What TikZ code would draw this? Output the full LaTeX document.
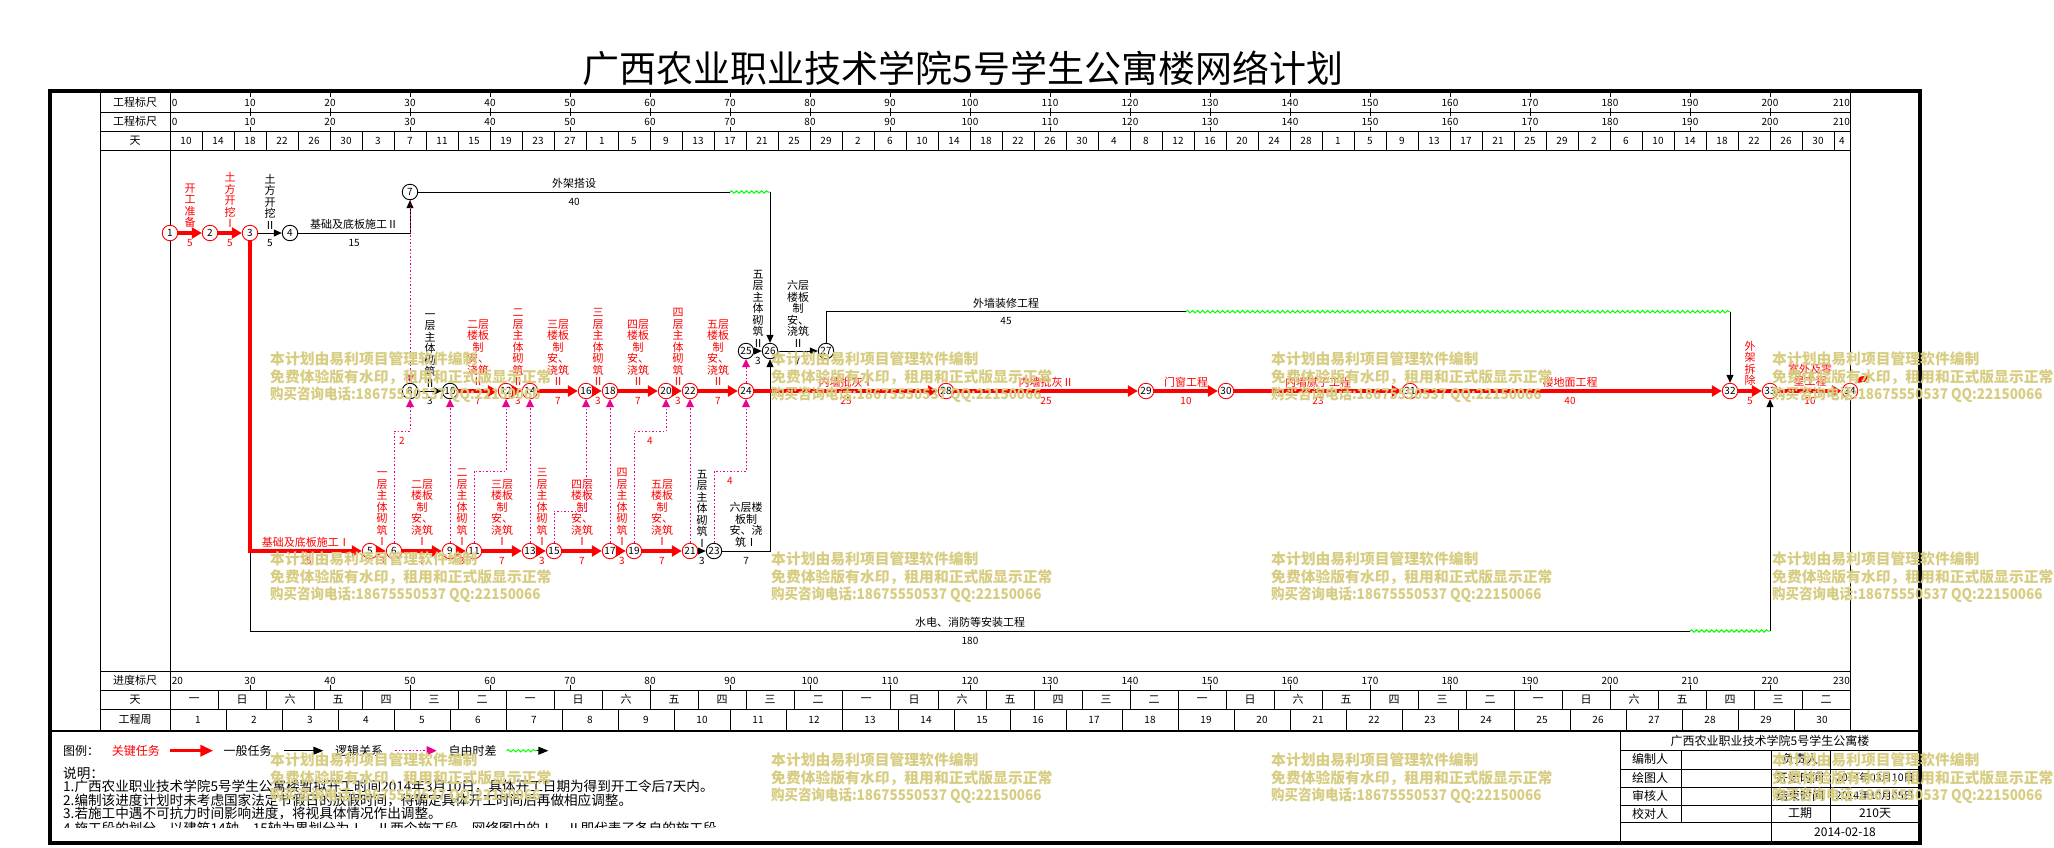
\documentclass[tikz,border=0pt]{standalone}
\usepackage{fontspec}
\setmainfont{Noto Sans CJK SC}
\usetikzlibrary{arrows.meta,decorations.pathmorphing}
\definecolor{wmtan}{RGB}{215,205,130}
\begin{document}
\begin{tikzpicture}[x=1pt,y=-1pt,
    ev/.style={circle,draw,fill=white,line width=0.9pt,minimum size=15.5pt,inner sep=0pt,font=\fontsize{10}{10}\selectfont},
    evc/.style={ev,draw=red},
    crit/.style={draw=red,line width=3.3pt,-{Triangle[length=10pt,width=11pt]}},
    norm/.style={draw=black,line width=1pt,-{Triangle[length=8pt,width=7pt]}},
    virt/.style={draw=magenta,line width=1pt,dash pattern=on 1.5pt off 2pt,-{Triangle[length=8pt,width=8pt]}},
    wav/.style={draw=green,line width=1pt,decorate,decoration={snake,amplitude=1.2pt,segment length=5pt}},
    tl/.style={anchor=base,yshift=4.5pt,inner sep=0pt,font=\fontsize{11}{11}\selectfont},
    dl/.style={anchor=base,yshift=-13pt,inner sep=0pt,font=\fontsize{10}{10}\selectfont},
    vl/.style={anchor=south,yshift=3.5pt,inner sep=0pt,align=center,font=\fontsize{11}{11.5}\selectfont},
    hd/.style={inner sep=0pt,font=\fontsize{11}{11}\selectfont},
    sc/.style={inner sep=0pt,font=\fontsize{10}{10}\selectfont},
    lg/.style={anchor=west,inner sep=0pt,font=\fontsize{12}{12}\selectfont},
    nt/.style={anchor=west,inner sep=0pt,font=\fontsize{13.6}{13.6}\selectfont},
    tb/.style={inner sep=0pt,font=\fontsize{12}{12}\selectfont},
    wm/.style={anchor=west,inner sep=0pt,text=wmtan,font=\fontsize{14.8}{14.8}\selectfont\bfseries}]

  \useasboundingbox (0,0) rectangle (2054,847);

  \node[font=\fontsize{37}{37}\selectfont] (title) at (963,68) {广西农业职业技术学院5号学生公寓楼网络计划};

  \draw[line width=4pt] (50.3,91.3) rectangle (1920,842.8);
  \draw (100,93) -- (100,730) (170,93) -- (170,730) (1850,93) -- (1850,730);
  \draw (100,112) -- (1850,112) (100,131) -- (1850,131) (100,150) -- (1850,150);
  \draw (100,671) -- (1850,671) (100,690) -- (1850,690) (100,709.3) -- (1850,709.3);
  \draw[line width=2pt] (50,731) -- (1920,731);

  \node[hd] (r1) at (135,102.5) {工程标尺};
  \node[hd] (r2) at (135,121.5) {工程标尺};
  \node[hd] (r3) at (135,140.5) {天};
  \node[hd] (r4) at (135,680.5) {进度标尺};
  \node[hd] (r5) at (135,699.7) {天};
  \node[hd] (r6) at (135,719.7) {工程周};

  \begin{scope}[xshift=170pt,x=8pt]
    \foreach \v in {10,20,...,200} {
      \node[sc] at (\v,102.5) {\v};
      \node[sc] at (\v,121.5) {\v};
      \draw (\v,93) -- (\v,97) (\v,108) -- (\v,116) (\v,127) -- (\v,131);
    }
    \node[sc,anchor=west] at (0.2,102.5) {0};
    \node[sc,anchor=west] at (0.2,121.5) {0};
    \node[sc,anchor=east] at (210,102.5) {210};
    \node[sc,anchor=east] at (210,121.5) {210};
    \foreach \d [count=\i from 0] in {10,14,18,22,26,30,3,7,11,15,19,23,27,1,5,9,13,17,21,25,29,2,6,10,14,18,22,26,30,4,8,12,16,20,24,28,1,5,9,13,17,21,25,29,2,6,10,14,18,22,26,30}
      \node[sc] at (4*\i+2,140.5) {\d};
    \node[sc] at (209,140.5) {4};
    \foreach \i in {1,...,52} \draw (4*\i,131) -- (4*\i,150);

    \foreach \v [evaluate=\v as \lab using int(\v+20)] in {10,20,...,200} {
      \node[sc] at (\v,680.5) {\lab};
      \draw (\v,685) -- (\v,690);
    }
    \node[sc,anchor=west] at (0.2,680.5) {20};
    \node[sc,anchor=east] at (210,680.5) {230};
    \foreach \k in {0,...,4} {
      \foreach \w [count=\j from 0] in {一,日,六,五,四,三,二}
        \node[hd] at (42*\k+6*\j+3,699.7) {\w};
    }
    \foreach \i in {1,...,34} \draw (6*\i,690) -- (6*\i,709.3);
    \foreach \i in {1,...,30} \node[sc] at (7*\i-3.5,719.7) {\i};
    \foreach \i in {1,...,29} \draw (7*\i,709.3) -- (7*\i,730);

    \node[evc] (n1)  at (0,233)   {1};
    \node[evc] (n2)  at (5,233)   {2};
    \node[evc] (n3)  at (10,233)  {3};
    \node[ev]  (n4)  at (15,233)  {4};
    \node[ev]  (n7)  at (30,192)  {7};
    \node[ev]  (n8)  at (30,391)  {8};
    \node[ev]  (n10) at (35,391)  {10};
    \node[evc] (n12) at (42,391)  {12};
    \node[evc] (n14) at (45,391)  {14};
    \node[evc] (n16) at (52,391)  {16};
    \node[evc] (n18) at (55,391)  {18};
    \node[evc] (n20) at (62,391)  {20};
    \node[evc] (n22) at (65,391)  {22};
    \node[evc] (n24) at (72,391)  {24};
    \node[ev]  (n25) at (72,351)  {25};
    \node[ev]  (n26) at (75,351)  {26};
    \node[ev]  (n27) at (82,351)  {27};
    \node[evc] (n28) at (97,391)  {28};
    \node[evc] (n29) at (122,391) {29};
    \node[evc] (n30) at (132,391) {30};
    \node[evc] (n31) at (155,391) {31};
    \node[evc] (n32) at (195,391) {32};
    \node[evc] (n33) at (200,391) {33};
    \node[evc] (n34) at (210,391) {34};
    \node[evc] (n5)  at (25,551)  {5};
    \node[evc] (n6)  at (28,551)  {6};
    \node[evc] (n9)  at (35,551)  {9};
    \node[evc] (n11) at (38,551)  {11};
    \node[evc] (n13) at (45,551)  {13};
    \node[evc] (n15) at (48,551)  {15};
    \node[evc] (n17) at (55,551)  {17};
    \node[evc] (n19) at (58,551)  {19};
    \node[evc] (n21) at (65,551)  {21};
    \node[ev]  (n23) at (68,551)  {23};

    \coordinate (w7)  at (70,192);
    \coordinate (w3)  at (190,631);
    \coordinate (w27) at (127,311.7);
    \coordinate (k6)  at (30,431);
    \coordinate (k11) at (42,471);
    \coordinate (k15) at (52,511);
    \coordinate (k19) at (62,431.7);
    \coordinate (k23) at (72,471.7);

    \path (n1) edge[crit] node[vl,red] {开\\工\\准\\备} node[dl,red] {5} (n2);
    \path (n2) edge[crit] node[vl,red] {土\\方\\开\\挖\\Ⅰ} node[dl,red] {5} (n3);
    \path (n3) edge[norm] node[vl] {土\\方\\开\\挖\\Ⅱ} node[dl] {5} (n4);
    \draw[norm] (n4) -| node[tl,pos=0.25] {基础及底板施工Ⅱ} node[dl,pos=0.25] {15} (n7);
    \draw[norm,-] (n7) -- node[tl] {外架搭设} node[dl] {40} (w7);
    \draw[wav] (w7) -- (w7 -| n26);
    \draw[norm] (w7 -| n26) -- (n26);

    \draw[norm,-] (n3) |- node[tl,pos=0.75] {水电、消防等安装工程} node[dl,pos=0.75] {180} (w3);
    \draw[wav] (w3) -- (w3 -| n33);
    \draw[norm] (w3 -| n33) -- (n33);
    \draw[crit] (n3) |- node[tl,pos=0.75,red] {基础及底板施工Ⅰ} node[dl,pos=0.75,red] {15} (n5);

    \path (n8)  edge[norm] node[vl] {一\\层\\主\\体\\砌\\筑\\Ⅱ} node[dl] {3} (n10);
    \path (n10) edge[crit] node[vl,red] {二层\\楼板\\制\\安、\\浇筑\\Ⅱ} node[dl,red] {7} (n12);
    \path (n12) edge[crit] node[vl,red] {二\\层\\主\\体\\砌\\筑\\Ⅱ} node[dl,red] {3} (n14);
    \path (n14) edge[crit] node[vl,red] {三层\\楼板\\制\\安、\\浇筑\\Ⅱ} node[dl,red] {7} (n16);
    \path (n16) edge[crit] node[vl,red] {三\\层\\主\\体\\砌\\筑\\Ⅱ} node[dl,red] {3} (n18);
    \path (n18) edge[crit] node[vl,red] {四层\\楼板\\制\\安、\\浇筑\\Ⅱ} node[dl,red] {7} (n20);
    \path (n20) edge[crit] node[vl,red] {四\\层\\主\\体\\砌\\筑\\Ⅱ} node[dl,red] {3} (n22);
    \path (n22) edge[crit] node[vl,red] {五层\\楼板\\制\\安、\\浇筑\\Ⅱ} node[dl,red] {7} (n24);

    \path (n5)  edge[crit] node[vl,red] {一\\层\\主\\体\\砌\\筑\\Ⅰ} node[dl,red] {3} (n6);
    \path (n6)  edge[crit] node[vl,red] {二层\\楼板\\制\\安、\\浇筑\\Ⅰ} node[dl,red] {7} (n9);
    \path (n9)  edge[crit] node[vl,red] {二\\层\\主\\体\\砌\\筑\\Ⅰ} node[dl,red] {3} (n11);
    \path (n11) edge[crit] node[vl,red] {三层\\楼板\\制\\安、\\浇筑\\Ⅰ} node[dl,red] {7} (n13);
    \path (n13) edge[crit] node[vl,red] {三\\层\\主\\体\\砌\\筑\\Ⅰ} node[dl,red] {3} (n15);
    \path (n15) edge[crit] node[vl,red] {四层\\楼板\\制\\安、\\浇筑\\Ⅰ} node[dl,red] {7} (n17);
    \path (n17) edge[crit] node[vl,red] {四\\层\\主\\体\\砌\\筑\\Ⅰ} node[dl,red] {3} (n19);
    \path (n19) edge[crit] node[vl,red] {五层\\楼板\\制\\安、\\浇筑\\Ⅰ} node[dl,red] {7} (n21);
    \path (n21) edge[norm] node[vl] {五\\层\\主\\体\\砌\\筑\\Ⅰ} node[dl] {3} (n23);

    \draw[norm] (n23) -| node[vl,pos=0.25] {六层楼\\板制\\安、浇\\筑Ⅰ} node[dl,pos=0.25] {7} (n26);
    \path (n25) edge[norm] node[vl] {五\\层\\主\\体\\砌\\筑\\Ⅱ} node[dl] {3} (n26);
    \path (n26) edge[norm] node[vl] {六层\\楼板\\制\\安、\\浇筑\\Ⅱ} node[dl] {7} (n27);
    \draw[norm,-] (n27) |- node[tl,pos=0.75] {外墙装修工程} node[dl,pos=0.75] {45} (w27);
    \draw[wav] (w27) -- (w27 -| n32);
    \draw[norm] (w27 -| n32) -- (n32);

    \path (n24) edge[crit] node[tl,red] {内墙批灰Ⅰ} node[dl,red] {25} (n28);
    \path (n28) edge[crit] node[tl,red] {内墙批灰Ⅱ} node[dl,red] {25} (n29);
    \path (n29) edge[crit] node[tl,red] {门窗工程} node[dl,red] {10} (n30);
    \path (n30) edge[crit] node[tl,red] {内墙腻子工程} node[dl,red] {23} (n31);
    \path (n31) edge[crit] node[tl,red] {楼地面工程} node[dl,red] {40} (n32);
    \path (n32) edge[crit] node[vl,red] {外\\架\\拆\\除} node[dl,red] {5} (n33);
    \path (n33) edge[crit] node[vl,red] {室外及零\\星工程} node[dl,red] {10} (n34);

    \draw[virt] (n7) -- (n8);
    \draw[virt] (n6) |- node[dl,pos=0.75,red] {2} (k6) -- (n8);
    \draw[virt] (n9) -- (n10);
    \draw[virt] (n11) |- (k11) -- (n12);
    \draw[virt] (n13) -- (n14);
    \draw[virt] (n15) |- (k15) -- (n16);
    \draw[virt] (n17) -- (n18);
    \draw[virt] (n19) |- node[dl,pos=0.75,red] {4} (k19) -- (n20);
    \draw[virt] (n21) -- (n22);
    \draw[virt] (n23) |- node[dl,pos=0.75,red] {4} (k23) -- (n24);
    \draw[virt] (n24) -- (n25);
  \end{scope}

  \fill[red] (1855,383.3) -- (1860,376.7) -- (1870,375) -- (1865,381.7) -- cycle;

  \node[lg] (lgd) at (63,750.7) {图例：};
  \node[lg,red] (lg1) at (111.7,750.7) {关键任务};
  \coordinate (a1) at (170,750.7);
  \coordinate (a2) at (213.3,750.7);
  \draw[crit,-{Triangle[length=13pt,width=11pt]}] (a1) -- (a2);
  \node[lg] (lg2) at (223.3,750.7) {一般任务};
  \coordinate (b1) at (284.3,750.7);
  \coordinate (b2) at (323.3,750.7);
  \draw[norm,-{Triangle[length=10pt,width=8pt]}] (b1) -- (b2);
  \node[lg] (lg3) at (335,750.7) {逻辑关系};
  \coordinate (c1) at (395,750.7);
  \coordinate (c2) at (436.7,750.7);
  \draw[virt,-{Triangle[length=10pt,width=9pt]}] (c1) -- (c2);
  \node[lg] (lg4) at (448.3,750.7) {自由时差};
  \coordinate (d1) at (506.7,750.7);
  \coordinate (d2) at (537,750.7);
  \coordinate (d3) at (548.3,750.7);
  \draw[wav] (d1) -- (d2);
  \draw[norm,-{Triangle[length=10pt,width=8pt]}] (d2) -- (d3);

  \node[nt] (sm) at (63,773.3) {说明：};
  \node[nt] (s1) at (63,786.7) {1.广西农业职业技术学院5号学生公寓楼暂拟开工时间2014年3月10日，具体开工日期为得到开工令后7天内。};
  \node[nt] (s2) at (63,800.1) {2.编制该进度计划时未考虑国家法定节假日的放假时间，待确定具体开工时间后再做相应调整。};
  \node[nt] (s3) at (63,813.5) {3.若施工中遇不可抗力时间影响进度，将视具体情况作出调整。};
  \begin{scope}
    \clip (52,731) rectangle (1620,827.5);
    \node[nt] (s4) at (63,828) {4.施工段的划分，以建筑14轴、15轴为界划分为Ⅰ、Ⅱ两个施工段，网络图中的Ⅰ、Ⅱ即代表了各自的施工段};
  \end{scope}

  \draw (1620,731) -- (1620,842);
  \draw (1620,750) -- (1920,750) (1620,768.7) -- (1920,768.7) (1620,786.7) -- (1920,786.7)
        (1620,804.7) -- (1920,804.7) (1620,822.3) -- (1920,822.3);
  \draw (1680.7,750) -- (1680.7,822.3) (1770.7,750) -- (1770.7,842) (1830,750) -- (1830,822.3);
  \node[tb] (th) at (1770,740.5) {广西农业职业技术学院5号学生公寓楼};
  \node[tb] at (1650,759.3) {编制人};
  \node[tb] at (1650,777.7) {绘图人};
  \node[tb] at (1650,795.7) {审核人};
  \node[tb] at (1650,813.5) {校对人};
  \node[tb] at (1800,759.3) {负责人};
  \node[tb] at (1800,777.7) {开始时间};
  \node[tb] at (1800,795.7) {结束时间};
  \node[tb] at (1800,813.5) {工期};
  \node[tb,font=\fontsize{10.5}{10.5}\selectfont] at (1875,777.7) {2014年03月10日};
  \node[tb,font=\fontsize{10.5}{10.5}\selectfont] at (1875,795.7) {2014年10月05日};
  \node[tb] at (1875,813.5) {210天};
  \node[tb] at (1845,832) {2014-02-18};

  \foreach \wx in {270,771,1271,1772} {
    \foreach \wy in {359,559,760} {
      \node[wm] at (\wx,\wy) {本计划由易利项目管理软件编制};
      \node[wm] at (\wx,\wy+18) {免费体验版有水印，租用和正式版显示正常};
      \node[wm] at (\wx,\wy+36) {\scalebox{0.91}[1]{购买咨询电话:18675550537 QQ:22150066}};
    }
  }
\end{tikzpicture}
\end{document}
